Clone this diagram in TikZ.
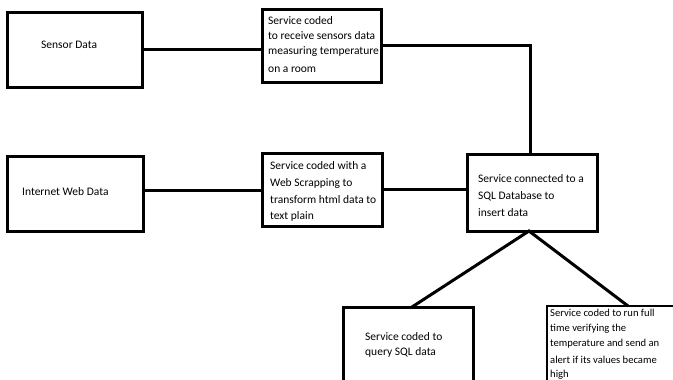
\documentclass[tikz,border=0pt]{standalone}
\usepackage{fontspec}
\setmainfont{Carlito}
\begin{document}
\begin{tikzpicture}[x=1pt,y=-1pt,
  box/.style={draw=black,line width=3pt,rectangle,inner sep=0pt,fill=white},
  thinbox/.style={draw=black,line width=2.4pt,rectangle,inner sep=0pt,fill=white},
  conn/.style={draw=black,line width=3pt},
  lbl/.style={anchor=west,inner sep=0pt,font=\fontsize{11.5}{14}\selectfont},
  slbl/.style={anchor=west,inner sep=0pt,font=\fontsize{10.6}{13}\selectfont}]
\useasboundingbox (0,0) rectangle (673,380);
\clip (0,0) rectangle (673,380);
% boxes
\node[box,minimum width=135pt,minimum height=75pt] (sensor) at (74.5,49.5) {};
\node[box,minimum width=119pt,minimum height=73pt] (s1) at (321.5,45.5) {};
\node[box,minimum width=136pt,minimum height=75pt] (inet) at (75,193.5) {};
\node[box,minimum width=120pt,minimum height=73pt] (s2) at (322,189.5) {};
\node[box,minimum width=130pt,minimum height=77pt] (sql) at (532,192.5) {};
\node[box,minimum width=130pt,minimum height=110pt] (q) at (408,362) {};
\node[thinbox,minimum width=150pt,minimum height=110pt] (alert) at (622,361) {};
% connectors
\coordinate (turn) at (530,45);
\coordinate (apex) at (529,231);
\coordinate (qtop) at (412,307);
\coordinate (atop) at (628,306);
\draw[conn] (sensor.east) -- (s1.west |- sensor.east);
\draw[conn] (s1.east |- turn) -- (turn) -- (turn |- sql.north);
\draw[conn] (inet.east |- 0,190) -- (s2.west |- 0,190);
\draw[conn] (s2.east |- 0,189) -- (sql.west |- 0,189);
\draw[conn,line join=miter] (qtop) -- (apex) -- (atop);
% texts
\node[lbl] (t1) at (41,45) {Sensor Data};
\node[lbl] (t2) at (268,21) {Service coded};
\node[lbl] (t3) at (268,36) {to receive sensors data};
\node[lbl] (t4) at (268,52) {measuring temperature};
\node[lbl] (t5) at (268,70) {on a room};
\node[lbl] (t6) at (22,192) {Internet Web Data};
\node[lbl] (t7) at (270,166) {Service coded with a};
\node[lbl] (t8) at (270,183) {Web Scrapping to};
\node[lbl] (t9) at (270,200) {transform html data to};
\node[lbl] (t10) at (270,216) {text plain};
\node[lbl] (t11) at (478,179) {Service connected to a};
\node[lbl] (t12) at (478,196) {SQL Database to};
\node[lbl] (t13) at (478,213) {insert data};
\node[lbl] (t14) at (365,337) {Service coded to};
\node[lbl] (t15) at (365,352) {query SQL data};
\node[slbl] (t16) at (550,313) {Service coded to run full};
\node[slbl] (t17) at (550,329) {time verifying the};
\node[slbl] (t18) at (550,344) {temperature and send an};
\node[slbl] (t19) at (550,360) {alert if its values became};
\node[slbl] (t20) at (550,375) {high};
\end{tikzpicture}
\end{document}
